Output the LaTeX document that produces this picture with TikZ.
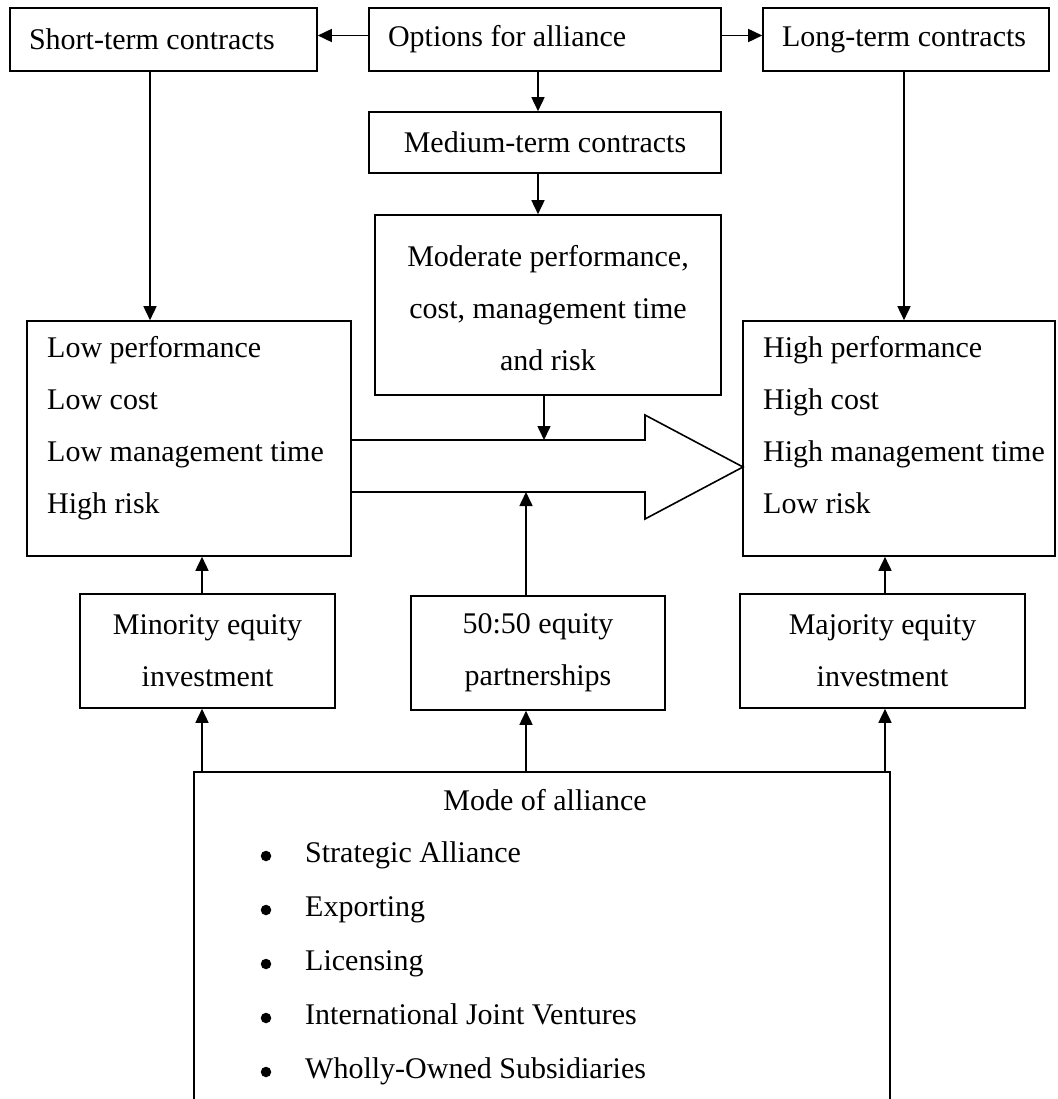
\documentclass[tikz,border=0pt]{standalone}
\usepackage{fontspec}
\setmainfont{Liberation Serif}
\usepackage{tikz}
\usetikzlibrary{arrows.meta}

\begin{document}
\begin{tikzpicture}[x=1pt, y=-1pt,
    box/.style={draw, line width=1.6pt, inner sep=0pt, font=\fontsize{30}{52}\selectfont},
    leftbox/.style={box, inner xsep=19pt, align=flush left},
    txt/.style={inner sep=0pt, font=\fontsize{30}{52}\selectfont},
    dot/.style={circle, fill, inner sep=0pt, minimum size=10.5pt},
    arr/.style={->, line width=1.6pt, >={Triangle[length=14pt, width=13pt]}},
    outline/.style={line width=1.6pt, line join=miter}]
    \useasboundingbox (0,0) rectangle (1057,1099);

    % top row
    \node[leftbox, text width=269pt, minimum height=63pt] (shortc) at (163.5,39.5) {Short-term contracts};
    \node[leftbox, text width=314pt, minimum height=63pt] (options) at (545,39.5) {Options for alliance};
    \node[leftbox, text width=248pt, minimum height=63pt] (longc) at (906,39.5) {Long-term contracts};

    % middle column
    \node[box, minimum width=352pt, minimum height=61pt] (medium) at (545,142.5) {Medium-term contracts};
    \node[box, minimum width=346pt, minimum height=180pt] (moderate) at (548,305) {};
    \node[txt, anchor=base, align=center] (modtext) at (548,370) {Moderate performance,\\cost, management time\\and risk};

    % outcome boxes
    \node[box, minimum width=324pt, minimum height=235pt] (lowbox) at (189,438.5) {};
    \node[box, minimum width=312pt, minimum height=235pt] (highbox) at (899,438.5) {};
    \foreach \entry [count=\i] in {Low performance, Low cost, Low management time, High risk}
        \node[txt, anchor=base west] (low\i) at (47,{305+52*\i}) {\entry};
    \foreach \entry [count=\i] in {High performance, High cost, High management time, Low risk}
        \node[txt, anchor=base west] (high\i) at (763,{305+52*\i}) {\entry};

    % big arrow between the outcomes
    \coordinate (shafttop) at (544,440);
    \coordinate (shaftbot) at (526,492);
    \draw[outline] (lowbox.east |- shafttop) -- (645,440) -- (645,415) -- (743,467)
        -- (645,519) -- (645,492) -- (lowbox.east |- shaftbot);

    % equity boxes
    \node[box, minimum width=255pt, minimum height=114pt, align=center] (minority) at (207.5,651) {Minority equity\\investment};
    \node[box, minimum width=254pt, minimum height=114pt, align=center] (fifty) at (538,653) {50:50 equity\\partnerships};
    \node[box, minimum width=285pt, minimum height=114pt, align=center] (majority) at (882.5,651) {Majority equity\\investment};

    % mode of alliance (runs off the page)
    \node[minimum width=696pt, minimum height=340pt, inner sep=0pt] (mode) at (542,942) {};
    \draw[outline] (mode.south west) -- (mode.north west) -- (mode.north east) -- (mode.south east);
    \node[txt, anchor=base] (modetitle) at (545,810) {Mode of alliance};
    \foreach \entry [count=\i] in {Strategic Alliance, Exporting, Licensing, International Joint Ventures, Wholly-Owned Subsidiaries} {
        \node[dot] (dot\i) at (266,{802+54*\i}) {};
        \node[txt, anchor=base west] (mode\i) at (305,{808+54*\i}) {\entry};
    }

    % columns for the vertical connectors
    \coordinate (colA) at (150,0);
    \coordinate (colB) at (538,0);
    \coordinate (colC) at (904,0);
    \coordinate (colD) at (202,0);
    \coordinate (colG) at (885,0);

    \draw[arr] ([yshift=4pt]options.west) -- ([yshift=4pt]shortc.east);
    \draw[arr] ([yshift=4pt]options.east) -- ([yshift=4pt]longc.west);
    \draw[arr] (options.south -| colB) -- (medium.north -| colB);
    \draw[arr] (medium.south -| colB) -- (moderate.north -| colB);
    \draw[arr] (shortc.south -| colA) -- (lowbox.north -| colA);
    \draw[arr] (longc.south -| colC) -- (highbox.north -| colC);
    \draw[arr] (moderate.south -| shafttop) -- (shafttop);
    \draw[arr] (fifty.north -| shaftbot) -- (shaftbot);
    \draw[arr] (minority.north -| colD) -- (lowbox.south -| colD);
    \draw[arr] (majority.north -| colG) -- (highbox.south -| colG);
    \draw[arr] (mode.north -| colD) -- (minority.south -| colD);
    \draw[arr] (mode.north -| shaftbot) -- (fifty.south -| shaftbot);
    \draw[arr] (mode.north -| colG) -- (majority.south -| colG);
\end{tikzpicture}
\end{document}
